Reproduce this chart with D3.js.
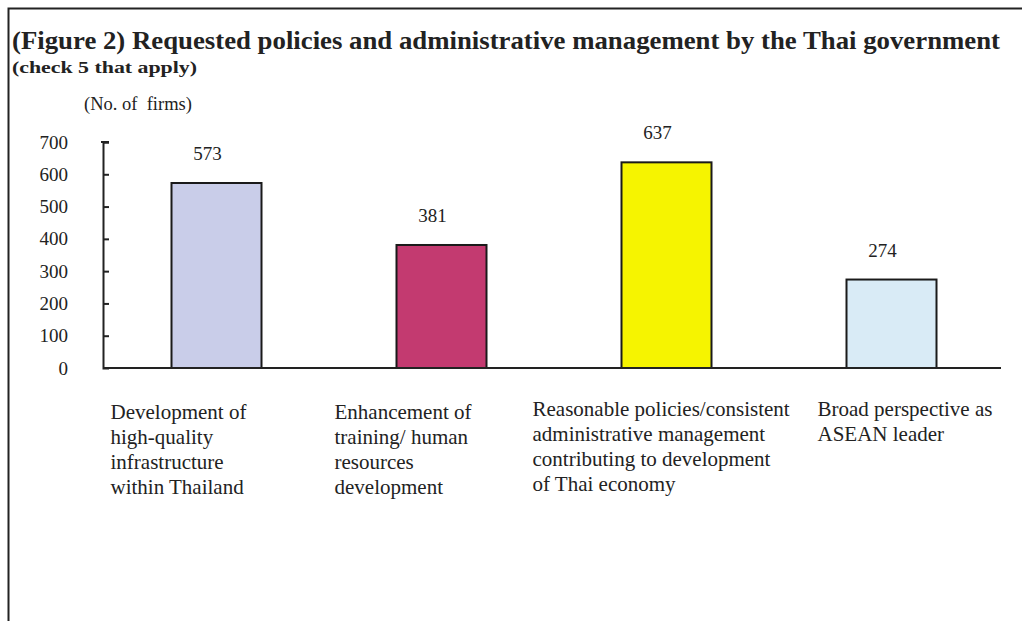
<!DOCTYPE html>
<html>
<head>
<meta charset="utf-8">
<script src="https://cdn.jsdelivr.net/npm/d3@7"></script>
<style>
  body { margin: 0; background: #fff; }
  svg text { font-family: "Liberation Serif", "Times New Roman", serif; fill: #222; }
  .title { font-weight: bold; font-size: 25.5px; }
  .subtitle { font-weight: bold; font-size: 17.5px; }
  .unit { font-size: 18.5px; }
  .tick text { font-size: 19px; }
  .value { font-size: 19px; }
  .cat { font-size: 21px; }
</style>
</head>
<body>
<svg id="chart" width="1022" height="621"></svg>
<script>
  // data
  const categories = [
    ['Development of', 'high-quality', 'infrastructure', 'within Thailand'],
    ['Enhancement of', 'training/ human', 'resources', 'development'],
    ['Reasonable policies/consistent', 'administrative management', 'contributing to development', 'of Thai economy'],
    ['Broad perspective as', 'ASEAN leader']
  ];
  const values = [573, 381, 637, 274];
  const colors = ['#c9cde9', '#c33a70', '#f6f400', '#d9ebf6'];
  const yTicks = [0, 100, 200, 300, 400, 500, 600, 700];

  // label block offsets from bar centre (layout only)
  const labelDx = [-106, -107, -134, -74];
  const labelTop = [419, 419, 416, 416];

  const svg = d3.select('#chart');

  // frame (right and bottom edges run off the picture)
  svg.append('path')
    .attr('d', 'M8.5,621 V8.5 H1022')
    .attr('fill', 'none')
    .attr('stroke', '#222')
    .attr('stroke-width', 2);

  svg.append('text').attr('class', 'title')
    .attr('x', 12).attr('y', 49)
    .attr('textLength', 988)
    .attr('lengthAdjust', 'spacingAndGlyphs')
    .text('(Figure 2) Requested policies and administrative management by the Thai government');
  svg.append('text').attr('class', 'subtitle')
    .attr('x', 12).attr('y', 73)
    .attr('textLength', 185)
    .attr('lengthAdjust', 'spacingAndGlyphs')
    .text('(check 5 that apply)');
  svg.append('text').attr('class', 'unit')
    .attr('x', 84).attr('y', 110)
    .attr('xml:space', 'preserve')
    .text('(No. of  firms)');

  const x = d3.scaleBand()
    .domain(d3.range(values.length))
    .range([104, 1004])
    .paddingInner(0.6)
    .paddingOuter(0.3);

  const y = d3.scaleLinear()
    .domain([0, 700])
    .range([368, 142]);

  // y axis: ticks point inward
  const yAxis = svg.append('g')
    .attr('transform', 'translate(103,0)')
    .call(d3.axisRight(y).tickValues(yTicks).tickSize(6).tickFormat(d3.format('d')));
  yAxis.select('.domain').attr('stroke', '#222').attr('stroke-width', 2);
  yAxis.selectAll('.tick line').attr('stroke', '#222').attr('stroke-width', 2);
  yAxis.selectAll('.tick text')
    .attr('x', -35).attr('text-anchor', 'end')
    .attr('fill', '#222');
  yAxis.selectAll('.tick').filter(d => d === 0).select('line').remove();
  // small cap on top tick
  yAxis.append('line')
    .attr('x1', -2).attr('x2', 6)
    .attr('y1', y(700)).attr('y2', y(700))
    .attr('stroke', '#222').attr('stroke-width', 2);

  // bars
  svg.append('g').selectAll('rect')
    .data(values)
    .join('rect')
    .attr('x', (d, i) => x(i))
    .attr('y', d => y(d))
    .attr('width', x.bandwidth())
    .attr('height', d => y(0) - y(d))
    .attr('fill', (d, i) => colors[i])
    .attr('stroke', '#1a1a1a')
    .attr('stroke-width', 2);

  // baseline
  svg.append('line')
    .attr('x1', 103).attr('x2', 1001)
    .attr('y1', y(0)).attr('y2', y(0))
    .attr('stroke', '#222')
    .attr('stroke-width', 2);

  // value labels
  svg.append('g').selectAll('text')
    .data(values)
    .join('text')
    .attr('class', 'value')
    .attr('x', (d, i) => x(i) + x.bandwidth() / 2 - 9)
    .attr('y', d => y(d) - 23)
    .attr('text-anchor', 'middle')
    .text(d => d);

  // category labels
  const cats = svg.append('g').selectAll('text')
    .data(categories)
    .join('text')
    .attr('class', 'cat')
    .attr('x', (d, i) => x(i) + x.bandwidth() / 2 + labelDx[i])
    .attr('y', (d, i) => labelTop[i]);
  cats.selectAll('tspan')
    .data((d, i) => d.map(line => ({ line, i })))
    .join('tspan')
    .attr('x', d => x(d.i) + x.bandwidth() / 2 + labelDx[d.i])
    .attr('dy', (d, j) => j === 0 ? 0 : 25)
    .text(d => d.line);
</script>
</body>
</html>
